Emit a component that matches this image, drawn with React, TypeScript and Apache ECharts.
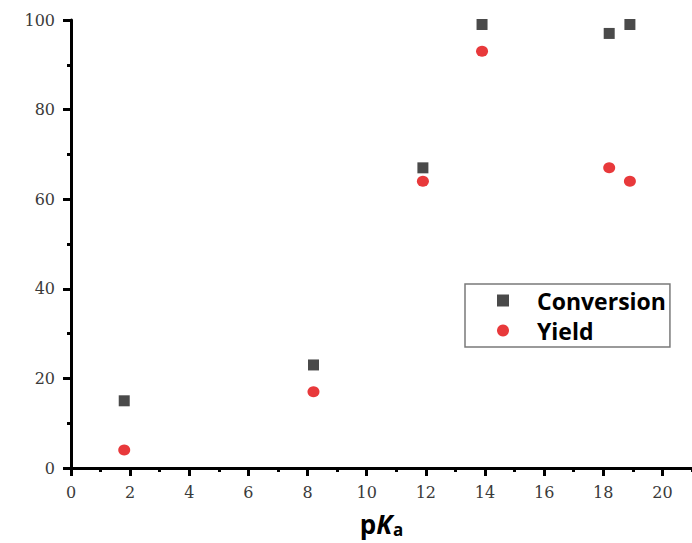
import React, { useEffect, useRef } from "react";
import * as echarts from "echarts";

const pKa = [1.8, 8.2, 11.9, 13.9, 18.2, 18.9];
const conversion = [15, 23, 67, 99, 97, 99];
const yieldVals = [4, 17, 64, 93, 67, 64];
const xMajorTicks = [0, 2, 4, 6, 8, 10, 12, 14, 16, 18, 20];

export default function App() {
  const ref = useRef<HTMLDivElement>(null);
  useEffect(() => {
    const chart = echarts.init(ref.current!, null, { renderer: "svg" });
    const labelStyle = { fontFamily: "DejaVu Serif", fontSize: 16, color: "#3a3a3a" };
    chart.setOption({
      animation: false,
      backgroundColor: "#ffffff",
      grid: { left: 71, right: 0, top: 20, bottom: 75, containLabel: false, outerBoundsMode: "none" },
      legend: {
        orient: "vertical",
        left: 465,
        top: 284,
        width: 207,
        borderColor: "#7a7a7a",
        borderWidth: 1.5,
        padding: [4, 4, 4, 32],
        itemGap: 5,
        itemWidth: 12,
        itemHeight: 12,
        textStyle: {
          fontFamily: "Open Sans",
          fontWeight: "bold",
          fontSize: 23,
          lineHeight: 25,
          color: "#000",
          padding: [0, 0, 0, 23],
        },
        data: [
          { name: "Conversion", icon: "rect", itemStyle: { opacity: 1 } },
          { name: "Yield", icon: "circle", itemStyle: { opacity: 1 } },
        ],
      },
      xAxis: [
        {
          type: "value",
          min: 0,
          max: 21,
          interval: 1,
          position: "bottom",
          axisLine: { show: true, lineStyle: { color: "#000", width: 3 } },
          axisTick: { show: true, inside: false, length: 4, lineStyle: { color: "#000", width: 3 } },
          axisLabel: { show: false },
          splitLine: { show: false },
          name: "{p|p}{k|K}{a|a}",
          nameLocation: "middle",
          nameGap: 42,
          nameTextStyle: {
            rich: {
              p: { fontFamily: "Open Sans", fontWeight: "bold", fontSize: 26, lineHeight: 28, color: "#000" },
              k: { fontFamily: "Open Sans", fontWeight: "bold", fontStyle: "italic", fontSize: 26, lineHeight: 28, color: "#000" },
              a: { fontFamily: "Open Sans", fontWeight: "bold", fontSize: 17, lineHeight: 17, color: "#000", padding: [11, 0, 0, 1] },
            },
          },
        },
        {
          type: "value",
          min: 0,
          max: 21,
          interval: 1,
          position: "bottom",
          axisLine: { show: false },
          axisTick: { show: true, inside: false, length: 8, customValues: xMajorTicks, lineStyle: { color: "#000", width: 3 } },
          axisLabel: { show: true, margin: 16, customValues: xMajorTicks, ...labelStyle },
          splitLine: { show: false },
        },
      ],
      yAxis: {
        type: "value",
        min: 0,
        max: 100,
        interval: 20,
        axisLine: { show: true, lineStyle: { color: "#000", width: 3 } },
        axisTick: { show: true, inside: false, length: 8, lineStyle: { color: "#000", width: 3 } },
        minorTick: { show: true, splitNumber: 2, length: 4, lineStyle: { color: "#000", width: 3 } },
        axisLabel: { margin: 16, ...labelStyle },
        splitLine: { show: false },
      },
      series: [
        {
          name: "Conversion",
          type: "scatter",
          xAxisIndex: 0,
          symbol: "rect",
          symbolSize: 11,
          itemStyle: { color: "#4a4a4a", opacity: 1 },
          data: pKa.map((x, i) => [x, conversion[i]]),
        },
        {
          name: "Yield",
          type: "scatter",
          xAxisIndex: 0,
          symbol: "circle",
          symbolSize: [12, 11],
          itemStyle: { color: "#e8393b", opacity: 1 },
          data: pKa.map((x, i) => [x, yieldVals[i]]),
        },
      ],
    });
    return () => chart.dispose();
  }, []);
  return <div ref={ref} style={{ width: 692, height: 543, position: "absolute", left: 0, top: 0 }} />;
}
